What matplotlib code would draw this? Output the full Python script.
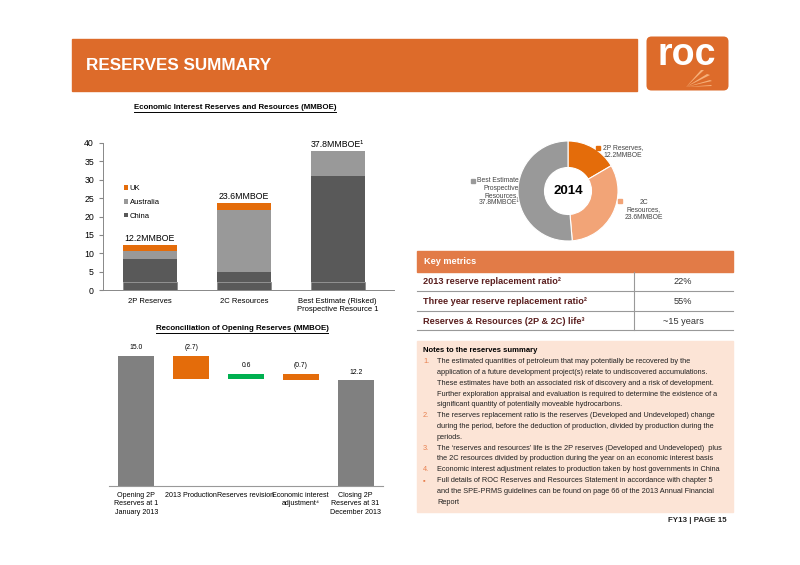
import matplotlib
matplotlib.use("Agg")
import matplotlib.pyplot as plt
from matplotlib import font_manager
from matplotlib.patches import Rectangle, FancyBboxPatch, Polygon
from matplotlib.lines import Line2D

# pick a narrow face if one is installed, else shrink the regular one
names = {f.name for f in font_manager.fontManager.ttflist}
if 'Liberation Sans Narrow' in names:
    NARROW = ['Liberation Sans Narrow', 'DejaVu Sans']
    NS = 1.0
else:
    NARROW = ['Liberation Sans', 'DejaVu Sans']
    NS = 0.84
plt.rcParams['font.family'] = NARROW

# ---- data ----
bar_cats = ['2P Reserves', '2C Resources', 'Best Estimate (Risked)\nProspective Resource 1']
china = [8.3, 4.8, 31.0]
australia = [2.2, 16.9, 6.8]
uk = [1.7, 1.9, 0.0]
bar_labels = ['12.2MMBOE', '23.6MMBOE', '37.8MMBOE\u00b9']

wf_cats = ['Opening 2P\nReserves at 1\nJanuary 2013', '2013 Production', 'Reserves revision',
           'Economic interest\nadjustment\u2074', 'Closing 2P\nReserves at 31\nDecember 2013']
wf_values = [15.0, -2.7, 0.6, -0.7, 12.2]
wf_labels = ['15.0', '(2.7)', '0.6', '(0.7)', '12.2']

donut_names = ['2P Reserves', '2C Resources', 'Best Estimate Prospective Resources']
donut_values = [12.2, 23.6, 37.8]

metric_names = ['2013 reserve replacement ratio\u00b2', 'Three year reserve replacement ratio\u00b2',
                'Reserves & Resources (2P & 2C) life\u00b3']
metric_values = ['22%', '55%', '~15 years']

ORANGE = '#E46C0A'
DARK = '#595959'
MID = '#999999'

W, H = 800, 565
fig = plt.figure(figsize=(8, 5.65), dpi=100)


def fx(x):
    return x / W


def fy(y):
    return 1 - y / H


def add_ax(x0, y0, x1, y1):
    return fig.add_axes([x0 / W, 1 - y1 / H, (x1 - x0) / W, (y1 - y0) / H])


def ftext(x, y, s, **kw):
    return fig.text(fx(x), fy(y), s, **kw)


def underlined(x, y, s, **kw):
    t = ftext(x, y, s, **kw)
    fig.canvas.draw()
    bb = t.get_window_extent()
    fig.add_artist(Line2D([bb.x0 / W, bb.x1 / W], [(bb.y0 - 0.5) / H, (bb.y0 - 0.5) / H],
                          color='black', lw=0.7, transform=fig.transFigure))
    return t


# ---- header ----
fig.add_artist(Rectangle((fx(72), fy(91)), (637 - 72) / W, 52 / H, transform=fig.transFigure,
                         color='#DD6B2A', zorder=0))
ftext(86, 65, 'RESERVES SUMMARY', color='white', fontsize=12.3, fontweight='bold', va='center',
      family=['Liberation Sans', 'DejaVu Sans'])

lax = add_ax(646, 36, 729, 91)
lax.set_xlim(0, 83)
lax.set_ylim(0, 55)
lax.axis('off')
lax.add_patch(FancyBboxPatch((0.5, 0.5), 82, 54, boxstyle='round,pad=0,rounding_size=5',
                             fc='#DD6B2A', ec='none'))
lax.text(41, 26, 'roc', color='white', fontsize=27, fontweight='bold', ha='center', va='baseline',
         family=['Liberation Sans', 'DejaVu Sans'])
origin = (40, 4)
for a, b in [((55, 21), (58, 21)), ((61, 17), (64, 16)), ((64, 11), (66, 10)), ((65, 6), (66, 5))]:
    lax.add_patch(Polygon([origin, a, b], closed=True, fc='#F6B07A', ec='none'))

# ---- stacked bar chart ----
underlined(235, 108, 'Economic Interest Reserves and Resources (MMBOE)', fontsize=6.7 * NS,
           fontweight='bold', ha='center', va='center')

ax1 = add_ax(103, 143, 394, 290)
x = range(len(bar_cats))
w = 0.575
base = [2.2] * len(china)
ax1.bar(x, base, w, color=DARK, edgecolor='#8a8a8a', linewidth=0.6)
ax1.bar(x, [c - b for c, b in zip(china, base)], w, bottom=base, color=DARK, edgecolor='none',
        label='China')
ax1.bar(x, australia, w, bottom=china, color=MID, edgecolor='none', label='Australia')
tops = [c + a for c, a in zip(china, australia)]
ax1.bar(x, uk, w, bottom=tops, color=ORANGE, edgecolor='none', label='UK')
for i, lab in enumerate(bar_labels):
    ax1.text(i, tops[i] + uk[i] + 0.6, lab, ha='center', va='bottom', fontsize=7.5 * NS)
ax1.set_xlim(-0.5, 2.6)
ax1.set_ylim(0, 40)
ax1.set_yticks(range(0, 41, 5))
ax1.set_xticks(list(x))
ax1.set_xticklabels(bar_cats, fontsize=6.5 * NS)
ax1.tick_params(axis='y', labelsize=7.5 * NS, length=3, color='#888888', direction='out')
ax1.tick_params(axis='x', length=0, pad=6)
for s in ['top', 'right']:
    ax1.spines[s].set_visible(False)
for s in ['left', 'bottom']:
    ax1.spines[s].set_color('#888888')
    ax1.spines[s].set_linewidth(0.7)
h, l = ax1.get_legend_handles_labels()
ax1.legend(h[::-1], l[::-1], loc='upper left', bbox_to_anchor=(fx(120), fy(181)),
           bbox_transform=fig.transFigure, frameon=False, fontsize=6.5 * NS, handlelength=0.6,
           handleheight=0.6, handletextpad=0.2, labelspacing=0.9, borderpad=0)

# ---- waterfall ----
underlined(242, 329, 'Reconciliation of Opening Reserves (MMBOE)', fontsize=6.7 * NS,
           fontweight='bold', ha='center', va='center')

ax2 = add_ax(109, 340, 383, 486)
running = 0.0
for i, v in enumerate(wf_values):
    if i == 0 or i == len(wf_values) - 1:
        bottom, height, col = 0, v, '#808080'
        running = v
    else:
        if v < 0:
            bottom, height, col = running + v, -v, ORANGE
        else:
            bottom, height, col = running, v, '#00B050'
        running += v
    ax2.bar(i, height, 0.655, bottom=bottom, color=col, edgecolor='none')
    ax2.text(i, bottom + height + 0.55, wf_labels[i], ha='center', va='bottom', fontsize=5.8 * NS)
ax2.set_xlim(-0.5, 4.5)
ax2.set_ylim(0, 16.85)
ax2.set_yticks([])
ax2.set_xticks(range(len(wf_cats)))
ax2.set_xticklabels(wf_cats, fontsize=6.1 * NS, linespacing=1.3)
ax2.tick_params(axis='x', length=0, pad=4)
for s in ['top', 'right', 'left']:
    ax2.spines[s].set_visible(False)
ax2.spines['bottom'].set_color('#999999')

# ---- donut ----
ax3 = add_ax(518, 141, 618, 241)
ax3.pie(donut_values, colors=[ORANGE, '#F2A477', MID], startangle=90, counterclock=False,
        radius=1, wedgeprops=dict(width=0.53, edgecolor='white', linewidth=0.8))
ax3.set_xlim(-1, 1)
ax3.set_ylim(-1, 1)
ax3.text(0, 0, '2014', ha='center', va='center', fontsize=9.5, fontweight='bold',
         family=['Liberation Sans', 'DejaVu Sans'])

dfs = 5.8 * NS
fig.add_artist(Rectangle((fx(596), fy(150)), 4 / W, 4 / H, transform=fig.transFigure, color=ORANGE))
ftext(603, 148, '2P Reserves,', fontsize=dfs, va='center', color='#444444')
ftext(603, 156, '12.2MMBOE', fontsize=dfs, va='center', color='#444444')
fig.add_artist(Rectangle((fx(471), fy(183)), 4 / W, 4 / H, transform=fig.transFigure, color=MID))
for j, s in enumerate(['Best Estimate', 'Prospective', 'Resources,', '37.8MMBOE\u00b9']):
    ftext(519, 181 + 7.2 * j, s, fontsize=dfs, va='center', ha='right', color='#444444')
fig.add_artist(Rectangle((fx(618), fy(203)), 4 / W, 4 / H, transform=fig.transFigure, color='#F2A477'))
for j, s in enumerate(['2C', 'Resources,', '23.6MMBOE']):
    ftext(644, 202 + 7.5 * j, s, fontsize=dfs, va='center', ha='center', color='#444444')

# ---- key metrics table ----
TX0, TX1 = 417, 733
fig.add_artist(Rectangle((fx(TX0), fy(272)), (TX1 - TX0) / W, 20.5 / H, transform=fig.transFigure,
                         color='#E27B47'))
ftext(424, 262, 'Key metrics', color='white', fontsize=7.8 * NS, fontweight='bold', va='center')
row_y = [282, 301.5, 321]
for j in range(3):
    ftext(423, row_y[j], metric_names[j], color='#5A1E1E', fontsize=7.8 * NS, fontweight='bold',
          va='center')
    ftext(683, row_y[j], metric_values[j], color='#333333', fontsize=7.8 * NS, va='center',
          ha='center')
    yl = row_y[j] + 9
    fig.add_artist(Line2D([fx(TX0), fx(TX1)], [fy(yl), fy(yl)], color='#999999', lw=0.8,
                          transform=fig.transFigure))
fig.add_artist(Line2D([fx(634), fx(634)], [fy(272), fy(330)], color='#999999', lw=0.8,
                      transform=fig.transFigure))

# ---- notes ----
fig.add_artist(Rectangle((fx(TX0), fy(512)), (TX1 - TX0) / W, 171 / H, transform=fig.transFigure,
                         color='#FCE4D6', zorder=0))
nfs = 6.35 * NS
ftext(423, 350, 'Notes to the reserves summary', fontsize=6.6 * NS, fontweight='bold', va='center')
notes = [
    ('1.', ['The estimated quantities of petroleum that may potentially be recovered by the',
            'application of a future development project(s) relate to undiscovered accumulations.',
            'These estimates have both an associated risk of discovery and a risk of development.',
            'Further exploration appraisal and evaluation is required to determine the existence of a',
            'significant quantity of potentially moveable hydrocarbons.']),
    ('2.', ['The reserves replacement ratio is the reserves (Developed and Undeveloped) change',
            'during the period, before the deduction of production, divided by production during the',
            'periods.']),
    ('3.', ["The \u2018reserves and resources\u2019 life is the 2P reserves (Developed and Undeveloped)  plus",
            'the 2C resources divided by production during the year on an economic interest basis']),
    ('4.', ['Economic interest adjustment relates to production taken by host governments in China']),
    ('\u25aa', ['Full details of ROC Reserves and Resources Statement in accordance with chapter 5',
                'and the SPE-PRMS guidelines can be found on page 66 of the 2013 Annual Financial',
                'Report']),
]
yy = 361.7
for num, lines in notes:
    ftext(423, yy, num, fontsize=nfs, color='#E8804F', va='center')
    for ln in lines:
        ftext(437, yy, ln, fontsize=nfs, color='#222222', va='center')
        yy += 10.8

ftext(727, 521, 'FY13 | PAGE 15', fontsize=6.8 * NS, fontweight='bold', ha='right', va='center',
      color='#222222')

fig.savefig('out.png', dpi=100)
